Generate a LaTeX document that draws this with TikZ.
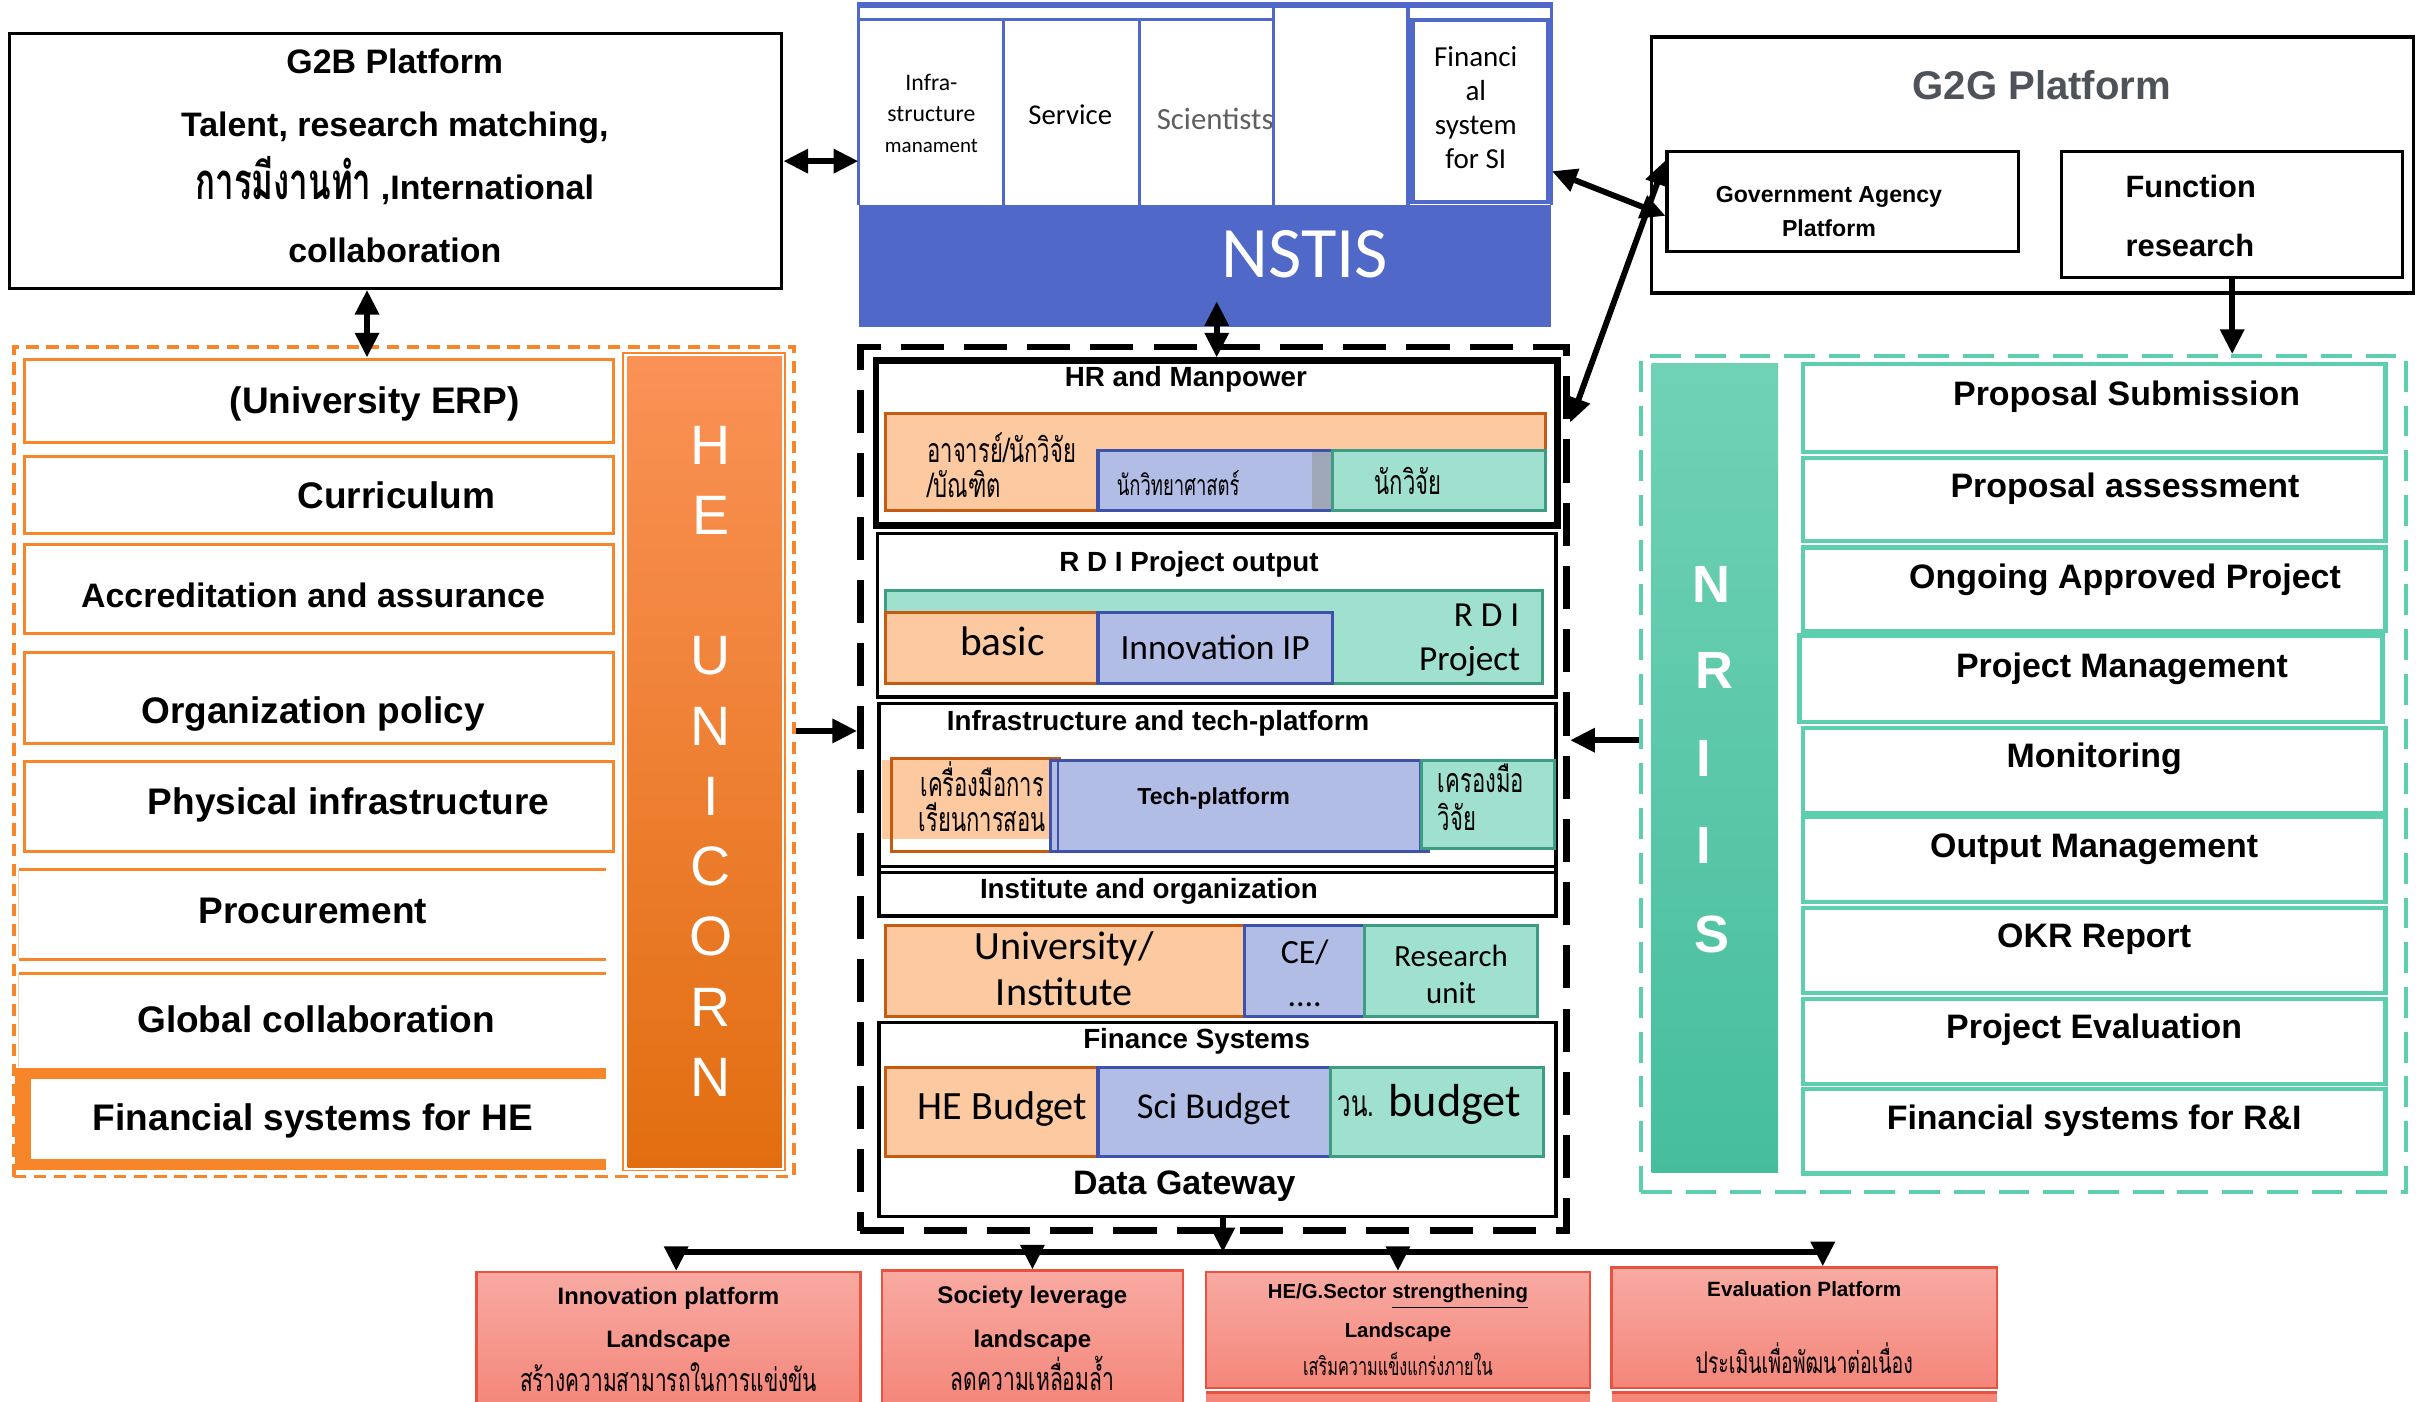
\documentclass[tikz,border=0pt]{standalone}
\usepackage{fontspec}
\setmainfont{Liberation Sans}
\newfontfamily\calib{Carlito}
\newfontfamily\thai[Script=Thai,FakeStretch=0.65]{Loma}
\usetikzlibrary{arrows.meta}
\definecolor{heor}{RGB}{247,134,42}
\definecolor{hetop}{RGB}{250,146,86}
\definecolor{hebot}{RGB}{226,110,16}
\definecolor{pchfill}{RGB}{252,201,160}
\definecolor{pchline}{RGB}{197,90,17}
\definecolor{blufill}{RGB}{178,189,230}
\definecolor{bluline}{RGB}{63,82,170}
\definecolor{blugray}{RGB}{158,168,184}
\definecolor{grnfill}{RGB}{160,224,206}
\definecolor{grnline}{RGB}{62,156,132}
\definecolor{nsblue}{RGB}{80,104,199}
\definecolor{nrline}{RGB}{94,207,174}
\definecolor{nrtop}{RGB}{112,210,180}
\definecolor{nrbot}{RGB}{70,190,158}
\definecolor{outtop}{RGB}{248,170,162}
\definecolor{outbot}{RGB}{244,134,122}
\definecolor{outred}{RGB}{232,82,62}
\definecolor{g2ggray}{RGB}{77,83,89}
\definecolor{scigray}{RGB}{95,95,95}
\newcommand\fsz[2]{\fontsize{#1}{#2}\selectfont}
\tikzset{
  blackbox/.style={draw=black, line width=1pt},
  thickbox/.style={draw=black, line width=2.2pt},
  coredash/.style={draw=black, line width=2.2pt, dash pattern=on 14pt off 6.5pt},
  hedash/.style={draw=heor, line width=1.2pt, dash pattern=on 4pt off 2.5pt},
  nrdash/.style={draw=nrline, line width=1.4pt, dash pattern=on 10pt off 4.5pt},
  pch/.style={draw=pchline, fill=pchfill, line width=1pt},
  blu/.style={draw=bluline, fill=blufill, line width=1pt},
  grn/.style={draw=grnline, fill=grnfill, line width=1pt},
  herow/.style={draw=heor, line width=1pt, fill=white},
  nrrow/.style={draw=nrline, line width=1.4pt, fill=white},
  nsline/.style={draw=nsblue, line width=1pt},
  outbox/.style={draw=outred, line width=0.8pt, top color=outtop, bottom color=outbot, inner sep=0pt, align=center},
  arr/.style={-{Triangle[length=8pt,width=7.5pt]}, line width=1.9pt},
  dbl/.style={{Triangle[length=8pt,width=7.5pt]}-{Triangle[length=8pt,width=7.5pt]}, line width=1.9pt},
  rowtxt/.style={font=\bfseries\fsz{11}{13}, inner sep=0pt},
  hetxt/.style={font=\bfseries\fsz{12}{14}, inner sep=0pt},
  subtitle/.style={font=\bfseries\fsz{9}{11}, inner sep=0pt},
  cal/.style={font=\calib\fsz{#1}{#1}, inner sep=0pt},
  th/.style={font=\thai\fsz{#1}{#1}, inner sep=0pt},
  heletter/.style={text=white, font=\fsz{18}{20}, inner sep=0pt},
  nrletter/.style={text=white, font=\bfseries\fsz{17}{19}, inner sep=0pt},
}
\begin{document}
\begin{tikzpicture}[x=0.5pt,y=-0.5pt]
\useasboundingbox (0,0) rectangle (1568,909);

% G2B platform
\node[blackbox, minimum width=250.5pt, minimum height=82.5pt] (g2b) at (256.5,104.5) {};
\node[font=\bfseries\fsz{11}{20.5}, align=center, inner sep=0pt] (g2bt) at (256,101)
  {G2B Platform\\Talent, research  matching,\\{\thai\fsz{16.5}{20.5}การมีงานทำ} ,International\\collaboration};

% NSTIS
\node[fill=nsblue, minimum width=224.5pt, minimum height=39.5pt, inner sep=0pt] (nstis) at (781.5,172.5) {};
\draw[nsline, line width=2pt] (556,3) -- (1007,3);
\draw[nsline] (557,3) -- (557,133) (1006,3) -- (1006,133);
\draw[nsline] (557,12.5) -- (826,12.5);
\draw[nsline] (651,12.5) -- (651,133) (739,12.5) -- (739,133) (826,3) -- (826,133);
\draw[nsline, line width=1.5pt] (913,3) -- (913,133);
\draw[nsline, line width=1.5pt] (916,13) rectangle (1004,131);
\node[font=\calib\fsz{7.7}{10}, align=center, inner sep=0pt] (infra) at (604,73.5) {Infra-\\structure\\{\fsz{6.8}{10}manament}};
\node[cal=9.3] (serv) at (694,74.5) {Service};
\node[cal=10, text=scigray] (sci) at (788,77) {Scientists};
\node[font=\calib\fsz{9.4}{11}, align=center, inner sep=0pt] (finsi) at (957,70) {Financi\\al\\system\\for SI};
\node[cal=23.5, text=white] (nstist) at (846,165) {NSTIS};

% G2G platform
\node[blackbox, minimum width=247pt, minimum height=83pt] (g2g) at (1318,107) {};
\node[font=\bfseries\fsz{13}{15}, text=g2ggray, inner sep=0pt] (g2gt) at (1324,55) {G2G Platform};
\node[blackbox, minimum width=114pt, minimum height=32.5pt] (gap) at (1195,130.5) {};
\node[font=\bfseries\fsz{7.5}{11}, align=center, inner sep=0pt] (gapt) at (1186,137) {Government Agency\\Platform};
\node[blackbox, minimum width=110.5pt, minimum height=41pt] (func) at (1447.5,139) {};
\node[font=\bfseries\fsz{10}{19}, align=left, anchor=west, inner sep=0pt] (funct) at (1378,140) {Function\\research};

% HE unicorn
\node[hedash, minimum width=253pt, minimum height=269pt] (hebox) at (262,494) {};
\draw[herow] (16,233) rectangle (398,287);
\draw[herow] (16,296) rectangle (398,346);
\draw[herow] (16,353) rectangle (398,411);
\draw[herow] (16,423) rectangle (398,482);
\draw[herow] (16,494) rectangle (398,552);
\draw[heor, line width=1pt] (393,564) -- (12,564) (12,622) -- (393,622);
\draw[heor!40, line width=0.6pt] (12,564) -- (12,622);
\draw[heor, line width=1pt] (393,631) -- (12,631);
\draw[heor!40, line width=0.6pt] (12,631) -- (12,692);
\draw[heor, line width=3.5pt] (393,696) -- (13,696) -- (13,755) -- (393,755);
\draw[heor, line width=5pt] (15,694) -- (15,757);
\node[hetxt] (erp) at (243,262) {(University ERP)};
\node[hetxt] (curr) at (257,321) {Curriculum};
\node[rowtxt] (accr) at (203,386) {Accreditation and assurance};
\node[hetxt] (orgp) at (203,463) {Organization policy};
\node[hetxt] (phys) at (226,522) {Physical  infrastructure};
\node[hetxt] (proc) at (203,591) {Procurement};
\node[hetxt] (glob) at (205,661) {Global collaboration};
\node[hetxt] (finhe) at (203,727) {Financial systems for  HE};
\draw[heor, line width=0.6pt] (404,229) rectangle (509,759);
\shade[top color=hetop, bottom color=hebot] (407,231) rectangle (507,757);
\draw
  (461,289) node[heletter] (heH){H}
  (461,334.5) node[heletter] (heE){E}
  (461,425.5) node[heletter] (heU){U}
  (461,471) node[heletter] (heN){N}
  (461,516.5) node[heletter] (heI){I}
  (461,562) node[heletter] (heC){C}
  (461,607.5) node[heletter] (heO){O}
  (461,653) node[heletter] (heR){R}
  (461,698.5) node[heletter] (heN2){N};

% core systems
\node[coredash, minimum width=229pt, minimum height=286.5pt] (core) at (787,511.5) {};

\node[thickbox, minimum width=221pt, minimum height=53.5pt] (hr) at (789,287.5) {};
\node[subtitle] (hrt) at (769,246) {HR and Manpower};
\draw[pch] (574,268) rectangle (1002,331);
\draw[blu] (712,292) rectangle (864,331);
\fill[blugray] (851,293) rectangle (863,330);
\draw[grn] (864,292) rectangle (1002,331);
\node[th=11, anchor=west] (hr1) at (601,290) {อาจารย์/นักวิจัย};
\node[th=11, anchor=west] (hr2) at (601,314) {/บัณฑิต};
\node[th=9.2] (hr3) at (764,313) {นักวิทยาศาสตร์};
\node[th=11] (hr4) at (913,312) {นักวิจัย};

\node[blackbox, minimum width=220pt, minimum height=53pt] (rdi) at (789,399) {};
\node[subtitle] (rdit) at (771,366) {R D I Project output};
\draw[grn] (574,383) rectangle (1000,443);
\draw[pch] (574,397) rectangle (712,443);
\draw[blu] (712,397) rectangle (864,443);
\node[cal=13.4] (basic) at (650,416) {basic};
\node[cal=11.5] (innoip) at (788,420) {Innovation IP};
\node[cal=11.4] (rdi1) at (964,399) {R D I};
\node[cal=11.4] (rdi2) at (953,429) {Project};

\node[blackbox, minimum width=219.5pt, minimum height=55pt] (inf) at (789.5,511) {};
\node[subtitle] (inft) at (751,469) {Infrastructure and tech-platform};
\fill[pchfill] (572,493) rectangle (681,544);
\draw[pchline, line width=1pt] (578,492) rectangle (687,552);
\draw[blu] (681,493) rectangle (926,552);
\draw[bluline, line width=0.8pt] (686,493) -- (686,552) (921,493) -- (921,552);
\draw[grn] (922,493) rectangle (1008,550);
\node[th=11] (inf1) at (637,505) {เครื่องมือการ};
\node[th=11] (inf2) at (637,530) {เรียนการสอน};
\node[font=\bfseries\fsz{7.5}{9}, inner sep=0pt] (tech) at (787,518) {Tech-platform};
\node[th=11, anchor=west] (inf3) at (932,505) {เครองมือ};
\node[th=11, anchor=west] (inf4) at (932,530) {วิจัย};

\node[blackbox, minimum width=219.5pt, minimum height=16pt] (ins) at (789.5,578) {};
\node[subtitle] (inst) at (745,578) {Institute and organization};
\draw[pch] (574,600) rectangle (807,659);
\draw[blu] (807,600) rectangle (885,659);
\draw[grn] (885,600) rectangle (997,659);
\node[font=\calib\fsz{13}{15}, align=center, inner sep=0pt] (univ) at (690,628) {University/\\Institute};
\node[font=\calib\fsz{11}{14}, align=center, inner sep=0pt] (ce) at (846,631) {CE/\\....};
\node[font=\calib\fsz{10}{12}, align=center, inner sep=0pt] (runit) at (941,632) {Research\\unit};

\node[blackbox, minimum width=219.5pt, minimum height=63pt] (fin) at (789.5,726) {};
\node[subtitle] (fint) at (776,675) {Finance Systems};
\draw[pch] (574,692) rectangle (712,750);
\draw[blu] (712,692) rectangle (863,750);
\draw[grn] (863,692) rectangle (1001,750);
\node[cal=13] (hebud) at (650,719) {HE Budget};
\node[cal=11.8] (scibud) at (787,719) {Sci Budget};
\node[cal=15] (onbud) at (927,716) {{\thai\fsz{12}{14}วน.} budget};
\node[rowtxt] (dgw) at (768,769) {Data Gateway};

% NRIIS
\node[nrdash, minimum width=248pt, minimum height=271pt] (nriis) at (1312,502) {};
\shade[top color=nrtop, bottom color=nrbot] (1071,236) rectangle (1153,760);
\draw
  (1110,379) node[nrletter] (nrN){N}
  (1112,435) node[nrletter] (nrR){R}
  (1105,492) node[nrletter] (nrI){I}
  (1105,548) node[nrletter] (nrI2){I}
  (1110,606) node[nrletter] (nrS){S};
\draw[nrrow] (1169,236) rectangle (1547,293);
\draw[nrrow] (1169,297) rectangle (1547,351);
\draw[nrrow] (1169,355) rectangle (1547,409);
\draw[nrrow] (1167,412) rectangle (1545,468);
\draw[nrrow] (1169,472) rectangle (1547,527);
\draw[nrrow] (1169,530) rectangle (1547,585);
\draw[nrrow] (1169,589) rectangle (1547,644);
\draw[nrrow] (1169,648) rectangle (1547,703);
\draw[nrrow] (1169,706) rectangle (1547,761);
\node[rowtxt] (psub) at (1379,257) {Proposal Submission};
\node[rowtxt] (pass) at (1378,317) {Proposal assessment};
\node[rowtxt] (ongo) at (1378,376) {Ongoing Approved Project};
\node[rowtxt] (pman) at (1376,434) {Project Management};
\node[rowtxt] (moni) at (1358,492) {Monitoring};
\node[rowtxt] (outm) at (1358,551) {Output Management};
\node[rowtxt] (okr) at (1358,609) {OKR Report};
\node[rowtxt] (peva) at (1358,668) {Project Evaluation};
\node[rowtxt] (finri) at (1358,727) {Financial systems for R\&I};

% landscapes
\node[outbox, minimum width=124.5pt, minimum height=43.5pt, font=\bfseries\fsz{7.7}{14}] (inno) at (433.5,868.5)
  {Innovation platform\\Landscape\\{\thai\mdseries\fsz{10.4}{14}สร้างความสามารถในการแข่งขัน}};
\node[outbox, minimum width=97.5pt, minimum height=44pt, font=\bfseries\fsz{7.8}{14}] (soc) at (669.5,868)
  {Society leverage\\landscape\\{\thai\mdseries\fsz{10.5}{14}ลดความเหลื่อมล้ำ}};
\fill[outbot] (782,903) rectangle (1031,912);
\draw[outred, line width=0.8pt] (782,903) -- (1031,903);
\node[outbox, minimum width=124.5pt, minimum height=37.5pt, font=\bfseries\fsz{6.6}{12.5}] (heg) at (906.5,862.5)
  {HE/G.Sector \underline{strengthening}\\Landscape\\{\thai\mdseries\fsz{8.1}{12.5}เสริมความแข็งแกร่งภายใน}};
\fill[outbot] (1045,903) rectangle (1295,912);
\draw[outred, line width=0.8pt] (1045,903) -- (1295,903);
\node[outbox, minimum width=125pt, minimum height=39pt, font=\bfseries\fsz{6.7}{25}] (eval) at (1170,861)
  {Evaluation Platform\\{\thai\mdseries\fsz{9.7}{25}ประเมินเพื่อพัฒนาต่อเนื่อง}};

% connectors
\draw[dbl] (g2b.east) -- (g2b.east -| nstis.west);
\draw[dbl] ([xshift=-9.25pt]g2b.south) -- ([xshift=-9.25pt,yshift=-4pt]g2b.south |- hebox.north);
\draw[dbl] ([yshift=8.5pt]nstis.south -| hr.north) -- (hr.north);
\draw[dbl] ([yshift=30.75pt]nstis.east) -- ([yshift=-4.75pt]gap.west);
\draw[dbl] ([xshift=3pt,yshift=6.75pt]hr.east) -- ([yshift=13.25pt]gap.west);
\draw[arr] (func.south) -- (func.south |- nriis.north);
\draw[arr] ([yshift=10pt]hebox.east) -- ([yshift=10pt]hebox.east -| core.west);
\draw[arr] ([yshift=11pt]nriis.west) -- ([yshift=11pt]nriis.west -| core.east);
\coordinate (bus) at (793,812);
\draw[arr] (fin.south -| bus) -- (bus);
\draw[arr] (bus) -| ([xshift=2.5pt]inno.north);
\draw[arr] (bus) -| (soc.north);
\draw[arr] (bus) -| (heg.north);
\draw[arr] (bus) -| ([xshift=6pt]eval.north);
\end{tikzpicture}
\end{document}
